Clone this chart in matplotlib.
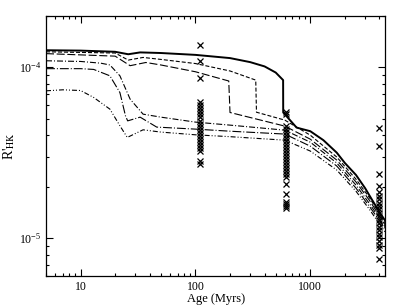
import matplotlib
matplotlib.use('Agg')
import matplotlib.pyplot as plt
from matplotlib.ticker import ScalarFormatter

# model tracks: age (Myr) and R'HK
age_1 = [5, 10, 20, 26, 33, 50, 100, 200, 300, 400, 500, 580, 581, 760, 1000, 1300, 1700, 2000, 2500, 3000, 3300, 4000, 4500]
rhk_1 = [1.256e-4, 1.25e-4, 1.23e-4, 1.19e-4, 1.22e-4, 1.21e-4, 1.18e-4, 1.13e-4, 1.07e-4, 1.01e-4, 9.3e-5, 8.4e-5,
         5.43e-5, 4.43e-5, 4.22e-5, 3.74e-5, 3.16e-5, 2.75e-5, 2.34e-5, 1.96e-5, 1.76e-5, 1.42e-5, 1.26e-5]

age_2 = [5, 20, 26, 35, 50, 100, 200, 335, 340, 600, 1000, 1700, 2500, 3300, 4500]
rhk_2 = [1.23e-4, 1.21e-4, 1.10e-4, 1.14e-4, 1.11e-4, 1.05e-4, 9.5e-5, 8.4e-5, 5.45e-5, 4.9e-5,
         4.0e-5, 2.98e-5, 2.21e-5, 1.71e-5, 1.22e-5]

age_3 = [5, 20, 27, 37, 50, 100, 195, 200, 600, 1000, 1700, 2500, 3300, 4500]
rhk_3 = [1.20e-4, 1.16e-4, 1.02e-4, 1.065e-4, 1.03e-4, 9.4e-5, 8.3e-5, 5.43e-5, 4.52e-5,
         3.79e-5, 2.86e-5, 2.13e-5, 1.65e-5, 1.19e-5]

age_4 = [5, 10, 15, 18, 22, 27, 35, 50, 100, 200, 600, 1000, 1700, 2500, 3300, 4500]
rhk_4 = [1.09e-4, 1.08e-4, 1.055e-4, 1.03e-4, 8.9e-5, 6.5e-5, 5.31e-5, 5.1e-5, 4.77e-5, 4.58e-5,
         4.28e-5, 3.64e-5, 2.75e-5, 2.04e-5, 1.58e-5, 1.16e-5]

age_5 = [5, 10, 13, 18, 22, 24.6, 25.7, 33, 46, 100, 200, 600, 1000, 1700, 2500, 3300, 4500]
rhk_5 = [9.8e-5, 9.8e-5, 9.7e-5, 8.9e-5, 7.1e-5, 5.19e-5, 4.85e-5, 5.1e-5, 4.46e-5, 4.34e-5, 4.22e-5,
         4.06e-5, 3.45e-5, 2.64e-5, 1.96e-5, 1.52e-5, 1.13e-5]

age_6 = [5, 7, 10, 13, 18, 22, 25.5, 35, 50, 100, 200, 600, 1000, 1700, 2500, 3300, 4500]
rhk_6 = [7.27e-5, 7.37e-5, 7.3e-5, 6.65e-5, 5.68e-5, 4.54e-5, 3.88e-5, 4.3e-5, 4.17e-5, 4.02e-5, 3.92e-5,
         3.74e-5, 3.23e-5, 2.5e-5, 1.88e-5, 1.46e-5, 1.08e-5]

# observed stars in three clusters
age_pleiades = 110
rhk_pleiades = [1.345e-4, 1.08e-4, 8.59e-5, 6.24e-5, 5.99e-5, 5.76e-5, 5.53e-5, 5.31e-5, 5.1e-5, 4.83e-5,
                4.64e-5, 4.46e-5, 4.28e-5, 4.11e-5, 3.95e-5, 3.79e-5, 3.64e-5, 3.5e-5, 3.36e-5, 3.23e-5,
                2.83e-5, 2.73e-5]

age_hyades = 620
rhk_hyades = [5.43e-5, 5.31e-5, 4.52e-5, 4.34e-5, 4.17e-5, 4.0e-5, 3.84e-5, 3.69e-5, 3.54e-5, 3.4e-5,
              3.27e-5, 3.14e-5, 3.01e-5, 2.89e-5, 2.78e-5, 2.67e-5, 2.56e-5, 2.46e-5, 2.36e-5, 2.27e-5,
              2.07e-5, 1.81e-5, 1.62e-5, 1.58e-5, 1.54e-5, 1.5e-5]

age_sun = 4000
rhk_sun = [4.4e-5, 3.45e-5, 2.37e-5, 2.01e-5, 1.86e-5, 1.77e-5, 1.69e-5, 1.61e-5, 1.54e-5, 1.47e-5,
           1.4e-5, 1.34e-5, 1.27e-5, 1.22e-5, 1.16e-5, 1.11e-5, 1.06e-5, 1.01e-5, 9.6e-6, 9.16e-6,
           8.74e-6, 7.54e-6]

plt.rcParams['font.family'] = 'serif'
plt.rcParams['font.serif'] = ['Liberation Serif', 'DejaVu Serif']
plt.rcParams['mathtext.fontset'] = 'stix'

fig = plt.figure(figsize=(3.99, 3.08), dpi=100)
ax = fig.add_axes([0.1153, 0.1039, 0.8504, 0.8451])

ax.plot(age_1, rhk_1, color='k', lw=1.4, ls='-')
ax.plot(age_2, rhk_2, color='k', lw=0.8, dashes=(3.6, 1.8))
ax.plot(age_3, rhk_3, color='k', lw=0.8, dashes=(7.2, 2.4))
ax.plot(age_4, rhk_4, color='k', lw=0.8, dashes=(5.4, 1.8, 0.9, 1.8))
ax.plot(age_5, rhk_5, color='k', lw=0.8, dashes=(8.0, 1.8, 0.9, 1.8))
ax.plot(age_6, rhk_6, color='k', lw=0.8, dashes=(4.5, 1.8, 0.9, 1.8, 0.9, 1.8))

for age, vals in [(age_pleiades, rhk_pleiades), (age_hyades, rhk_hyades), (age_sun, rhk_sun)]:
    ax.plot([age] * len(vals), vals, ls='none', marker='x', color='k', ms=4, mew=0.9)

ax.set_xscale('log')
ax.set_yscale('log')
ax.set_xlim(5, 4500)
ax.set_ylim(6e-6, 2e-4)
ax.xaxis.set_major_formatter(ScalarFormatter())

ax.tick_params(which='both', direction='in', top=True, right=True, labelsize=8.5, width=0.8)
ax.tick_params(which='major', length=5)
ax.tick_params(which='minor', length=2.5)
for s in ax.spines.values():
    s.set_linewidth(0.9)

ax.set_xlabel('Age (Myrs)', fontsize=9, labelpad=0)
ax.set_ylabel(r"R'$_{\rm HK}$", fontsize=10, labelpad=1)

fig.savefig('out.png', dpi=100)
